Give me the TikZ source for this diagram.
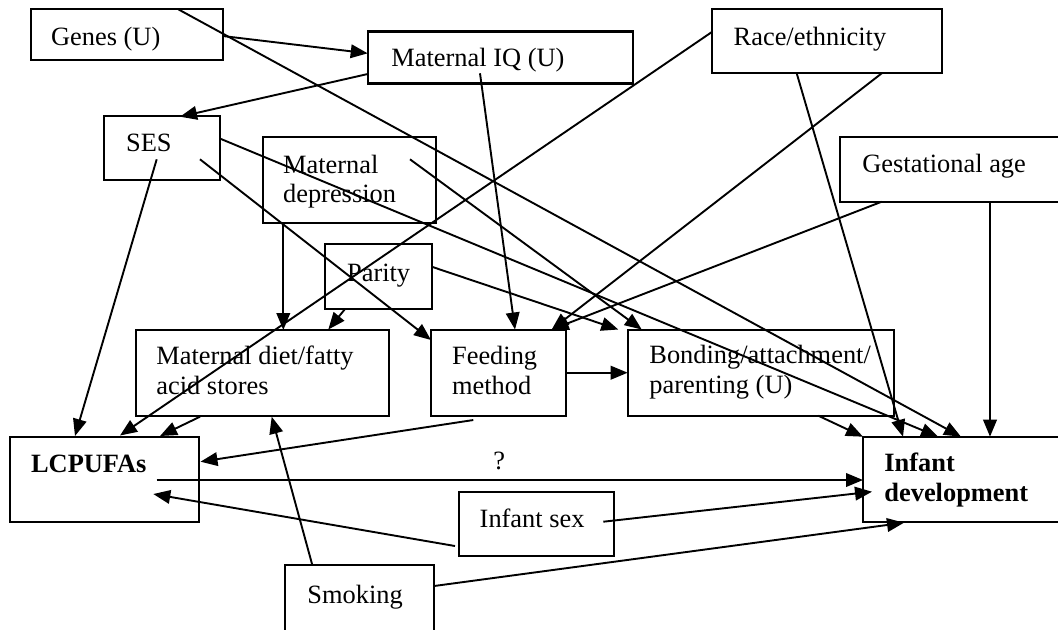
\documentclass[tikz,border=0pt]{standalone}
\usepackage{fontspec}
\setmainfont{Liberation Serif}
\usetikzlibrary{arrows.meta,fit}
\begin{document}
\begin{tikzpicture}[x=0.5pt,y=-0.5pt,
  box/.style={draw,line width=1.1pt,inner sep=0pt},
  txt/.style={anchor=base west,inner sep=0pt,font=\fontsize{13.2}{15}\selectfont},
  btxt/.style={txt,font=\fontsize{13.2}{15}\selectfont\bfseries},
  arr/.style={line width=0.95pt,-{Triangle[length=8.5pt,width=6.8pt]}}]
\useasboundingbox (0,0) rectangle (1058,629);
\clip (0,0) rectangle (1058,629);
% boxes
\node[box,fit={(30.7,9.3) (222.7,60)}] (genes) {};
\node[box,fit={(367.7,31.5) (632.7,83.5)}] (iq) {};
\node[box,fit={(712.3,9.3) (942.3,73.3)}] (race) {};
\node[box,fit={(104.3,116) (220.3,180.3)}] (ses) {};
\node[box,fit={(263.3,137.3) (436,223.3)}] (dep) {};
\node[box,fit={(840,137.3) (1080,201.7)}] (gest) {};
\node[box,fit={(325,244.3) (431.7,309)}] (parity) {};
\node[box,fit={(135.7,330) (389,415.7)}] (diet) {};
\node[box,fit={(431,330) (565.7,415.7)}] (feed) {};
\node[box,fit={(627.7,330) (894.3,415.7)}] (bond) {};
\node[box,fit={(10,436.7) (199.3,521.7)}] (lcp) {};
\node[box,fit={(863,436.7) (1080,521.7)}] (inf) {};
\node[box,fit={(459.3,492.3) (614.3,556)}] (sex) {};
\node[box,fit={(285,565) (434,650)}] (smoke) {};
% texts
\node[txt] (genesT) at (50.7,45) {Genes (U)};
\node[txt] (iqT) at (391,66.5) {Maternal IQ (U)};
\node[txt] (raceT) at (733.3,45) {Race/ethnicity};
\node[txt] (sesT) at (125.7,151.7) {SES};
\node[txt] (depT1) at (282.7,173.3) {Maternal};
\node[txt] (depT2) at (282.7,202.7) {depression};
\node[txt] (gestT) at (862,172.7) {Gestational age};
\node[txt] (parT) at (346.7,281) {Parity};
\node[txt] (dietT1) at (156,364.3) {Maternal diet/fatty};
\node[txt] (dietT2) at (156,394.3) {acid stores};
\node[txt] (feedT1) at (451.7,364.3) {Feeding};
\node[txt] (feedT2) at (451.7,394.3) {method};
\node[txt] (bondT1) at (649,363.3) {Bonding/attachment/};
\node[txt] (bondT2) at (649,393.3) {parenting (U)};
\node[btxt] (lcpT) at (30.7,472.7) {LCPUFAs};
\node[txt] (qT) at (493,469) {?};
\node[btxt] (infT1) at (884,471.7) {Infant};
\node[btxt] (infT2) at (884,501.7) {development};
\node[txt] (sexT) at (479.3,527.3) {Infant sex};
\node[txt] (smokeT) at (307,603) {Smoking};
% connector end points
\coordinate (g1) at (222.7,36);   \coordinate (iq1) at (367.7,53.3);
\coordinate (g2) at (178.3,9.3);  \coordinate (inf1) at (961,436.7);
\coordinate (iq2) at (367.7,74);  \coordinate (ses1) at (180,116.7);
\coordinate (iq3) at (480,73.3);  \coordinate (feed1) at (515,329.5);
\coordinate (r1) at (712.3,31.7); \coordinate (lcp1) at (120,435.5);
\coordinate (r2) at (881.7,73.3); \coordinate (feed2) at (551.7,329.5);
\coordinate (r3) at (796.7,73.3); \coordinate (inf2) at (903,436.7);
\coordinate (s1) at (156.7,159.3);\coordinate (lcp2) at (75,436);
\coordinate (s2) at (200,159.3);  \coordinate (feed3) at (431,340);
\coordinate (s3) at (220.3,138.7);\coordinate (inf3) at (938,436.7);
\coordinate (d1) at (283.3,223.3);\coordinate (diet1) at (283.3,330);
\coordinate (d2) at (410,159.3);  \coordinate (bond1) at (641.7,329.5);
\coordinate (ga1) at (881.7,201.7);
\coordinate (ga2) at (990,201.7); \coordinate (inf4) at (990,436.7);
\coordinate (p1) at (345,309);    \coordinate (diet2) at (328.3,329.5);
\coordinate (p2) at (431.7,266.7);\coordinate (bond2) at (618.3,329.5);
\coordinate (dt1) at (200,416.7); \coordinate (lcp3) at (160,436);
\coordinate (f1) at (473.3,420);  \coordinate (lcp4) at (200.5,461.7);
\coordinate (f2) at (565.7,372.7);\coordinate (bond3) at (627.7,372.7);
\coordinate (b1) at (818.3,415.7);\coordinate (inf5) at (863,436.7);
\coordinate (l1) at (156.7,480);  \coordinate (inf6) at (863,480);
\coordinate (x1) at (455,546);    \coordinate (lcp5) at (153.3,494);
\coordinate (x2) at (603.3,521.7);\coordinate (inf7) at (872,491.7);
\coordinate (k1) at (434,586);    \coordinate (inf8) at (904,522.7);
\coordinate (k2) at (312.3,565);  \coordinate (diet3) at (271.7,416.7);
% connectors
\draw[arr] (g1) -- (iq1);
\draw[arr] (g2) -- (inf1);
\draw[arr] (iq2) -- (ses1);
\draw[arr] (iq3) -- (feed1);
\draw[arr] (r1) -- (lcp1);
\draw[arr] (r2) -- (feed2);
\draw[arr] (r3) -- (inf2);
\draw[arr] (s1) -- (lcp2);
\draw[arr] (s2) -- (feed3);
\draw[arr] (s3) -- (inf3);
\draw[arr] (d1) -- (diet1);
\draw[arr] (d2) -- (bond1);
\draw[arr] (ga1) -- (feed2);
\draw[arr] (ga2) -- (inf4);
\draw[arr] (p1) -- (diet2);
\draw[arr] (p2) -- (bond2);
\draw[arr] (dt1) -- (lcp3);
\draw[arr] (f1) -- (lcp4);
\draw[arr] (f2) -- (bond3);
\draw[arr] (b1) -- (inf5);
\draw[arr] (l1) -- (inf6);
\draw[arr] (x1) -- (lcp5);
\draw[arr] (x2) -- (inf7);
\draw[arr] (k1) -- (inf8);
\draw[arr] (k2) -- (diet3);
\end{tikzpicture}
\end{document}
